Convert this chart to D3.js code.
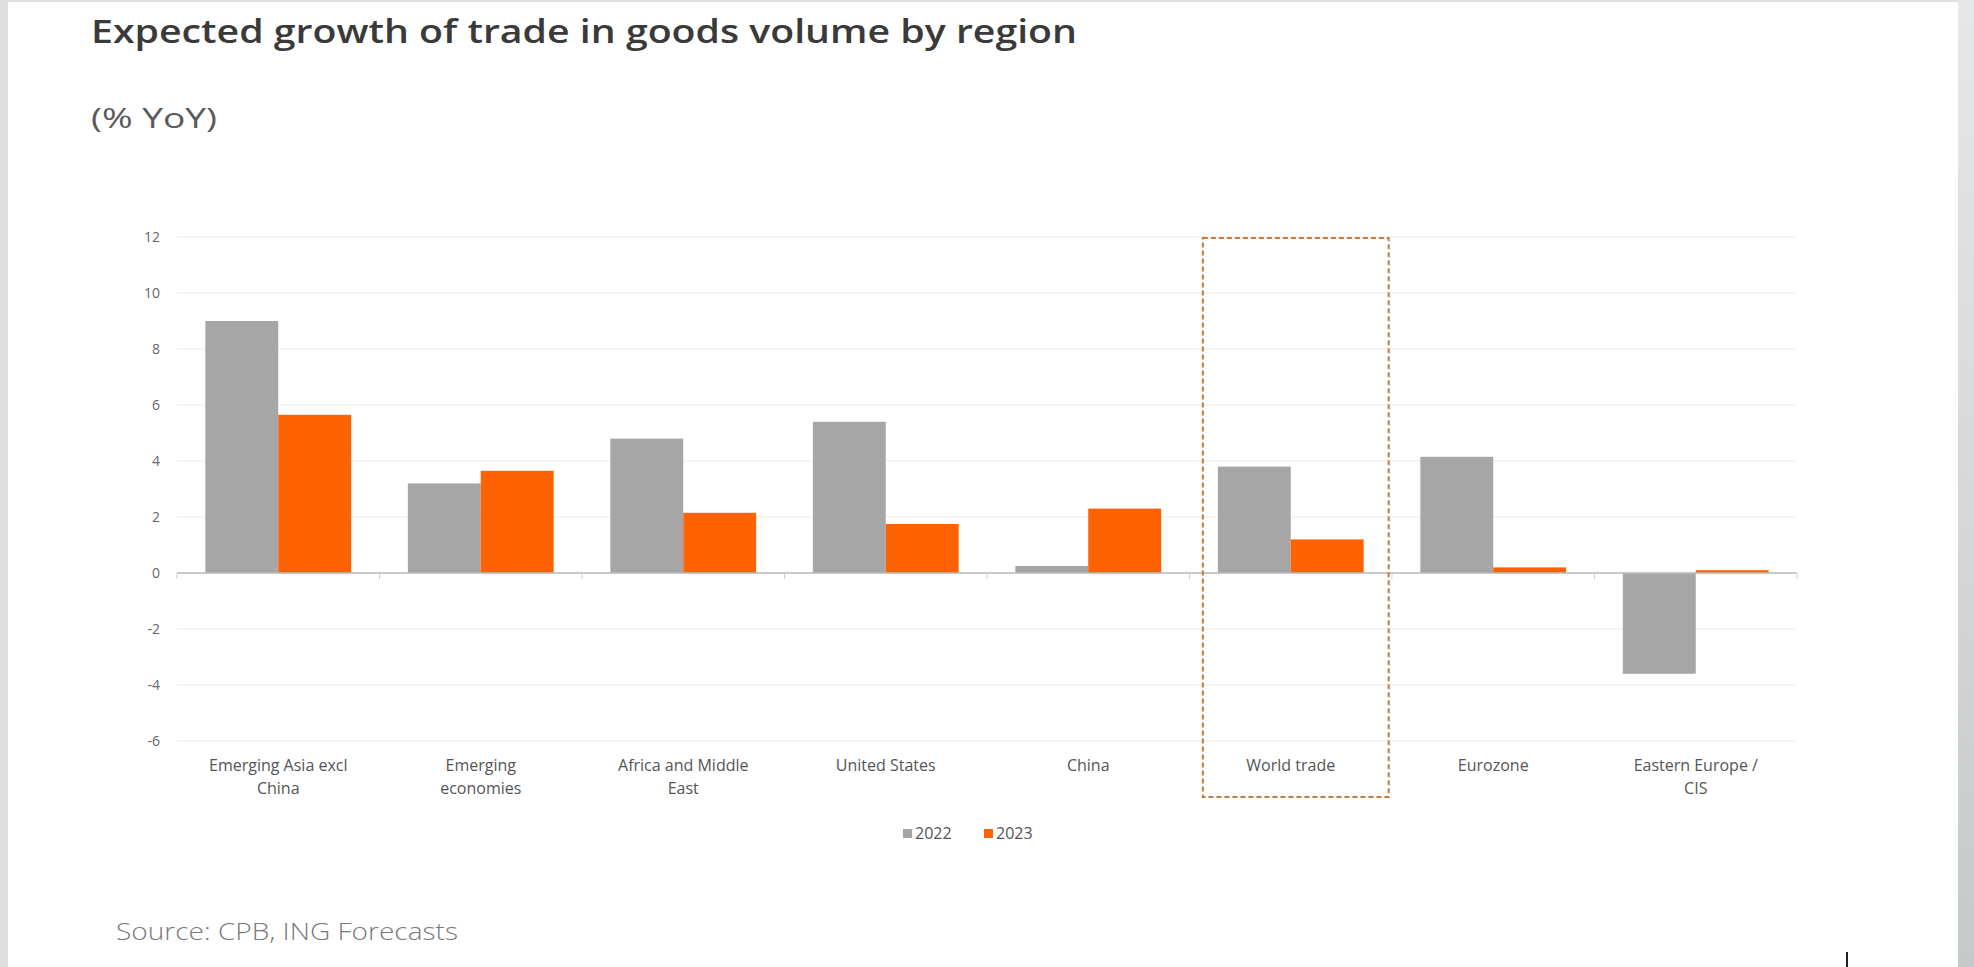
<!DOCTYPE html>
<html>
<head>
<meta charset="utf-8">
<script src="https://cdn.jsdelivr.net/npm/d3@7"></script>
<style>
  body { margin: 0; background: #fff; overflow: hidden; }
  svg text { font-family: "Open Sans", sans-serif; }
</style>
</head>
<body>
<svg id="chart" width="1974" height="967"></svg>
<script>
// data
var regions = ['Emerging Asia excl China', 'Emerging economies', 'Africa and Middle East',
  'United States', 'China', 'World trade', 'Eurozone', 'Eastern Europe / CIS'];
var regionLines = [
  ['Emerging Asia excl', 'China'], ['Emerging', 'economies'], ['Africa and Middle', 'East'],
  ['United States'], ['China'], ['World trade'], ['Eurozone'], ['Eastern Europe /', 'CIS']
];
var years = ['2022', '2023'];
var growth2022 = [9.0, 3.2, 4.8, 5.4, 0.25, 3.8, 4.15, -3.6];
var growth2023 = [5.65, 3.65, 2.15, 1.75, 2.3, 1.2, 0.2, 0.1];
var yTicks = [-6, -4, -2, 0, 2, 4, 6, 8, 10, 12];
var highlight = 'World trade';

var colors = { '2022': '#a6a6a6', '2023': '#ff6200' };

var svg = d3.select('#chart');

// page frame: grey margins round a white card
svg.append('rect').attr('width', 1974).attr('height', 967).attr('fill', '#dedfe0');
var grad = svg.append('defs').append('linearGradient')
  .attr('id', 'side').attr('x1', 0).attr('x2', 0).attr('y1', 0).attr('y2', 1);
grad.append('stop').attr('offset', 0).attr('stop-color', '#e6e7e8');
grad.append('stop').attr('offset', 1).attr('stop-color', '#c6c9ca');
svg.append('rect').attr('x', 1958).attr('width', 16).attr('height', 967).attr('fill', 'url(#side)');
svg.append('rect').attr('x', 8).attr('y', 2).attr('width', 1950).attr('height', 965).attr('fill', '#fff');

function fitWidth(sel, w) {
  sel.attr('textLength', w).attr('lengthAdjust', 'spacingAndGlyphs');
}

svg.append('text')
  .attr('x', 91).attr('y', 43)
  .attr('font-size', 33).attr('font-weight', 600).attr('fill', '#3a3a3a')
  .text('Expected growth of trade in goods volume by region')
  .call(fitWidth, 986);

svg.append('text')
  .attr('x', 91).attr('y', 128)
  .attr('font-size', 27).attr('fill', '#5a5a5a')
  .text('(% YoY)')
  .call(fitWidth, 126);

var left = 177, right = 1797;

var x0 = d3.scaleBand()
  .domain(regions)
  .range([left, right])
  .paddingInner(0.28)
  .paddingOuter(0.14);

var x1 = d3.scaleBand()
  .domain(years)
  .range([0, x0.bandwidth()]);

var y = d3.scaleLinear()
  .domain([-6, 12])
  .range([741, 237]);

// gridlines
svg.append('g')
  .selectAll('line')
  .data(yTicks.filter(function(d){ return d != 0; }))
  .enter().append('line')
  .attr('x1', left).attr('x2', right)
  .attr('y1', function(d){ return y(d); })
  .attr('y2', function(d){ return y(d); })
  .attr('stroke', '#ececec').attr('stroke-width', 1.2);

// y axis labels (plain hyphen for negatives, as in the source)
var yAxis = d3.axisLeft(y).tickValues(yTicks).tickSize(0).tickPadding(0)
  .tickFormat(function(d){ return String(d); });
var yg = svg.append('g')
  .attr('transform', 'translate(160,0)')
  .call(yAxis);
yg.select('.domain').remove();
yg.selectAll('text')
  .attr('font-size', 14).attr('fill', '#666')
  .style('font-family', '"Open Sans", sans-serif');

// bars
var rows = regions.map(function(r, i){
  return { region: r, values: [
    { year: '2022', value: growth2022[i] },
    { year: '2023', value: growth2023[i] }
  ]};
});

var groups = svg.append('g')
  .selectAll('g')
  .data(rows)
  .enter().append('g')
  .attr('transform', function(d){ return 'translate(' + x0(d.region) + ',0)'; });

groups.selectAll('rect')
  .data(function(d){ return d.values; })
  .enter().append('rect')
  .attr('x', function(d){ return x1(d.year); })
  .attr('width', x1.bandwidth())
  .attr('y', function(d){ return y(Math.max(0, d.value)); })
  .attr('height', function(d){ return Math.abs(y(d.value) - y(0)); })
  .attr('fill', function(d){ return colors[d.year]; });

// zero line with category ticks
var step = x0.step();
svg.append('line')
  .attr('x1', left).attr('x2', right)
  .attr('y1', y(0)).attr('y2', y(0))
  .attr('stroke', '#b8b8b8').attr('stroke-width', 1.5);
svg.append('g')
  .selectAll('line')
  .data(d3.range(regions.length + 1))
  .enter().append('line')
  .attr('x1', function(i){ return left + i * step; })
  .attr('x2', function(i){ return left + i * step; })
  .attr('y1', y(0)).attr('y2', y(0) + 6)
  .attr('stroke', '#cfcfcf').attr('stroke-width', 1);

// category labels
var labels = svg.append('g')
  .selectAll('text')
  .data(rows)
  .enter().append('text')
  .attr('text-anchor', 'middle')
  .attr('font-size', 16).attr('fill', '#555')
  .attr('transform', function(d){ return 'translate(' + (x0(d.region) + x0.bandwidth() / 2) + ',771)'; });
labels.selectAll('tspan')
  .data(function(d, i){ return regionLines[i]; })
  .enter().append('tspan')
  .attr('x', 0)
  .attr('dy', function(d, i){ return i ? 23 : 0; })
  .text(function(d){ return d; });

// highlight box round world trade
svg.append('rect')
  .attr('x', x0(highlight) - 15)
  .attr('y', y(12) + 1)
  .attr('width', x0.bandwidth() + 40)
  .attr('height', 797 - y(12) - 1)
  .attr('fill', 'none')
  .attr('stroke', '#c9763f').attr('stroke-width', 2)
  .attr('stroke-dasharray', '5,3');

// legend
var legend = svg.append('g').attr('transform', 'translate(903,833)');
var item = legend.selectAll('g')
  .data(years)
  .enter().append('g')
  .attr('transform', function(d, i){ return 'translate(' + (i * 81) + ',0)'; });
item.append('rect')
  .attr('x', 0).attr('y', -4).attr('width', 9).attr('height', 9)
  .attr('fill', function(d){ return colors[d]; });
item.append('text')
  .attr('x', 12).attr('y', 6)
  .attr('font-size', 16).attr('fill', '#555')
  .text(function(d){ return d; });

svg.append('text')
  .attr('x', 116).attr('y', 940)
  .attr('font-size', 23).attr('font-weight', 300).attr('fill', '#7a7a7a')
  .text('Source: CPB, ING Forecasts')
  .call(fitWidth, 342);

// stray cursor mark in the screenshot
svg.append('line')
  .attr('x1', 1847).attr('x2', 1847).attr('y1', 952).attr('y2', 967)
  .attr('stroke', '#222').attr('stroke-width', 2);
</script>
</body>
</html>
